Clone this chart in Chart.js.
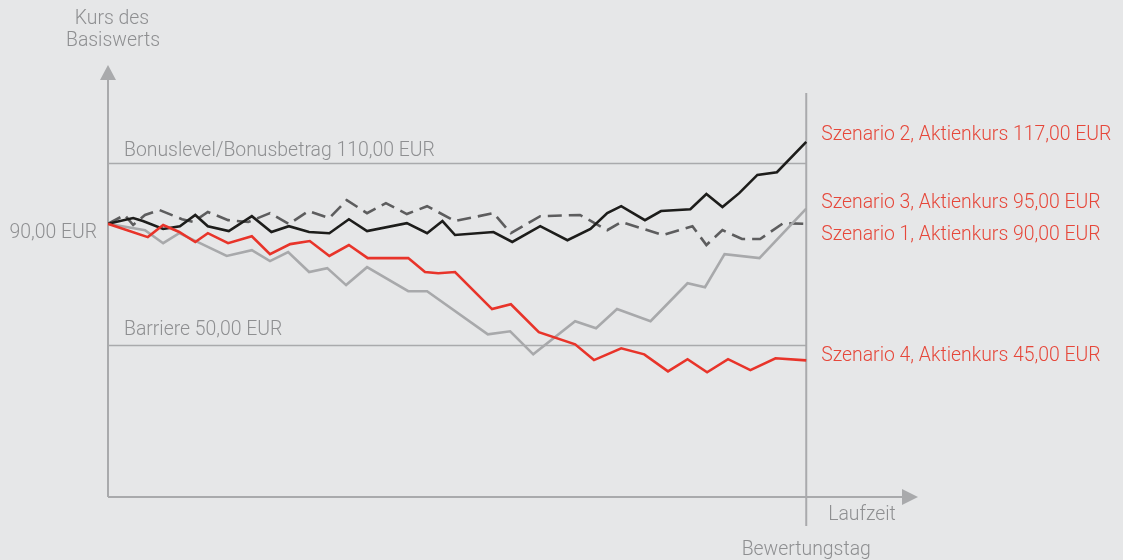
<!DOCTYPE html>
<html>
<head>
<meta charset="utf-8">
<script src="https://cdn.jsdelivr.net/npm/chart.js@4/dist/chart.umd.min.js"></script>
<style>
  html, body { margin: 0; padding: 0; background: #e6e7e8; }
  #wrap { width: 1123px; height: 560px; }
</style>
</head>
<body>
<div id="wrap"><canvas id="mycanvas" width="1123" height="560"></canvas></div>
<script>
// time axis: 0 = start, 100 = Bewertungstag
var sz1Days = [0,2.4,3.6,5.3,7.4,10.6,12.2,14.3,17.2,20.1,23.2,25.9,28.7,31.7,34.2,37.1,39.8,42.8,45.7,49.7,55.2,57.7,61.9,67.6,71.5,73.5,79.5,83.7,85.7,88.0,90.8,93.4,96.7,100];
var sz1Kurs = [90,92.9,89.6,92.9,94.5,91.5,90.6,93.9,91.2,90.6,93.5,89.9,94.2,91.9,97.8,93.5,96.8,93.2,95.8,90.9,93.5,86.9,92.5,92.9,87.9,90.6,86.3,89.2,83.0,87.9,85.0,85.0,90.2,90];

var sz2Days = [0,3.6,5.0,7.9,10.3,12.5,14.3,17.3,20.6,23.4,25.9,28.8,31.7,34.5,37.1,42.8,45.7,47.9,49.7,55.2,57.9,61.9,65.8,69.1,71.5,73.5,76.9,79.2,83.4,85.7,88.0,90.4,93.0,95.8,100];
var sz2Kurs = [90,91.9,90.9,88.3,89.2,92.9,89.2,87.6,92.5,87.3,89.2,87.3,86.9,91.5,87.6,90.2,86.9,90.9,86.3,87.3,84.0,89.2,84.6,88.3,93.5,95.8,91.2,94.2,94.8,99.8,95.5,100.1,106.1,107.0,117];

var sz3Days = [0,5.3,7.9,10.2,17.0,20.6,23.2,25.8,28.8,31.4,34.1,37.1,43.0,45.7,54.4,57.6,60.9,66.9,69.9,72.9,77.7,83.0,85.5,88.3,93.3,100];
var sz3Kurs = [90,87.9,83.6,86.9,79.4,81.3,77.7,80.7,74.1,75.4,69.8,75.7,67.8,67.8,53.6,54.6,47.0,57.9,55.6,61.9,57.9,70.4,69.1,80.0,78.7,95];

var sz4Days = [0,5.7,7.9,10.2,12.5,14.3,17.2,20.6,23.2,26.1,28.9,31.7,34.5,37.2,43.0,45.4,47.3,49.7,55.0,57.7,61.7,66.9,69.6,73.5,76.8,80.2,83.0,85.8,88.8,92.0,95.6,100];
var sz4Kurs = [90,85.6,89.6,87.3,84.0,86.9,83.6,85.9,80.0,83.3,84.3,79.4,83.0,78.7,78.7,74.1,73.7,74.1,61.9,63.5,54.3,50.3,45.1,49.0,47.0,41.4,45.4,41.1,45.4,41.8,45.7,45];

var startKurs = 90;
var bonusLevel = 110;
var barriere = 50;
var bewertungstag = 100;

var szenarioLabels = ['Szenario 1, Aktienkurs 90,00 EUR', 'Szenario 2, Aktienkurs 117,00 EUR', 'Szenario 3, Aktienkurs 95,00 EUR', 'Szenario 4, Aktienkurs 45,00 EUR'];

var axisColor = '#a9aaac';
var textGray = '#8e8f91';
var textRed = '#e6473a';
var fontName = 'Roboto, "Liberation Sans", sans-serif';

function toPoints(days, kurs) {
  var pts = [];
  for (var i in days) {
    pts.push({x: days[i], y: kurs[i]});
  }
  return pts;
}

// axes, levels and all the text around the plot
var guides = {
  id: 'guides',
  beforeDatasetsDraw: function(chart) {
    var ctx = chart.ctx;
    var xs = chart.scales.x, ys = chart.scales.y;
    var x0 = xs.getPixelForValue(0);
    var xEnd = xs.getPixelForValue(bewertungstag);
    var y0 = ys.getPixelForValue(0);

    ctx.save();
    ctx.strokeStyle = axisColor;
    ctx.fillStyle = axisColor;
    ctx.lineWidth = 1.5;

    [bonusLevel, barriere].forEach(function(v) {
      var py = Math.round(ys.getPixelForValue(v)) + 0.5;
      ctx.beginPath();
      ctx.moveTo(x0, py);
      ctx.lineTo(xEnd, py);
      ctx.stroke();
    });

    ctx.lineWidth = 2;
    // y axis with arrow
    ctx.beginPath();
    ctx.moveTo(x0, y0);
    ctx.lineTo(x0, 80);
    ctx.stroke();
    ctx.beginPath();
    ctx.moveTo(x0 - 8, 80);
    ctx.lineTo(x0 + 8, 80);
    ctx.lineTo(x0, 65);
    ctx.closePath();
    ctx.fill();

    // x axis with arrow
    ctx.beginPath();
    ctx.moveTo(x0, y0);
    ctx.lineTo(902, y0);
    ctx.stroke();
    ctx.beginPath();
    ctx.moveTo(902, y0 - 8);
    ctx.lineTo(902, y0 + 8);
    ctx.lineTo(918, y0);
    ctx.closePath();
    ctx.fill();

    // Bewertungstag
    ctx.beginPath();
    ctx.moveTo(xEnd, 93);
    ctx.lineTo(xEnd, y0 + 29);
    ctx.stroke();
    ctx.restore();
  },
  afterDatasetsDraw: function(chart) {
    var ctx = chart.ctx;
    var xs = chart.scales.x, ys = chart.scales.y;
    var x0 = xs.getPixelForValue(0);
    var xEnd = xs.getPixelForValue(bewertungstag);
    var y0 = ys.getPixelForValue(0);

    ctx.save();
    ctx.font = '300 19.4px ' + fontName;
    ctx.textBaseline = 'middle';
    ctx.fillStyle = textGray;

    ctx.textAlign = 'center';
    ctx.fillText('Kurs des', 112, 19);
    ctx.fillText('Basiswerts', 113, 41);
    ctx.fillText('Bewertungstag', xEnd, y0 + 53);

    ctx.textAlign = 'left';
    ctx.fillText('Bonuslevel/Bonusbetrag 110,00 EUR', x0 + 16, ys.getPixelForValue(bonusLevel) - 12);
    ctx.fillText('Barriere 50,00 EUR', x0 + 16, ys.getPixelForValue(barriere) - 15);
    ctx.fillText('Laufzeit', xEnd + 22, y0 + 18);

    ctx.textAlign = 'right';
    ctx.fillText('90,00 EUR', x0 - 11, ys.getPixelForValue(startKurs) + 9);

    // end labels, nudged apart so they don't collide
    var ends = [sz1Kurs, sz2Kurs, sz3Kurs, sz4Kurs];
    var nudge = [11, -7, -5, -4];
    ctx.textAlign = 'left';
    ctx.fillStyle = textRed;
    for (var i = 0; i < ends.length; i++) {
      var last = ends[i][ends[i].length - 1];
      ctx.fillText(szenarioLabels[i], xEnd + 15, ys.getPixelForValue(last) + nudge[i]);
    }
    ctx.restore();
  }
};

var chartdata = {
  datasets: [
    {
      label: szenarioLabels[3],
      data: toPoints(sz4Days, sz4Kurs),
      borderColor: '#e8342a',
      borderWidth: 2.6
    },
    {
      label: szenarioLabels[1],
      data: toPoints(sz2Days, sz2Kurs),
      borderColor: '#1d1d1b',
      borderWidth: 2.6
    },
    {
      label: szenarioLabels[2],
      data: toPoints(sz3Days, sz3Kurs),
      borderColor: '#a8a9ab',
      borderWidth: 2.6
    },
    {
      label: szenarioLabels[0],
      data: toPoints(sz1Days, sz1Kurs),
      borderColor: '#5d5d5e',
      borderWidth: 2.6,
      borderDash: [14, 7]
    }
  ]
};

var ctx = document.getElementById('mycanvas');

var lineGraph = new Chart(ctx, {
  type: 'line',
  data: chartdata,
  options: {
    responsive: false,
    animation: false,
    devicePixelRatio: 1,
    layout: { padding: { left: 108, right: 219, top: 72, bottom: 63 } },
    elements: {
      point: { radius: 0 },
      line: { tension: 0, borderJoinStyle: 'miter' }
    },
    scales: {
      x: { type: 'linear', min: 0, max: 114, display: false },
      y: { min: 0, max: 140, display: false }
    },
    plugins: {
      legend: { display: false },
      tooltip: { enabled: false }
    }
  },
  plugins: [guides]
});
</script>
</body>
</html>
